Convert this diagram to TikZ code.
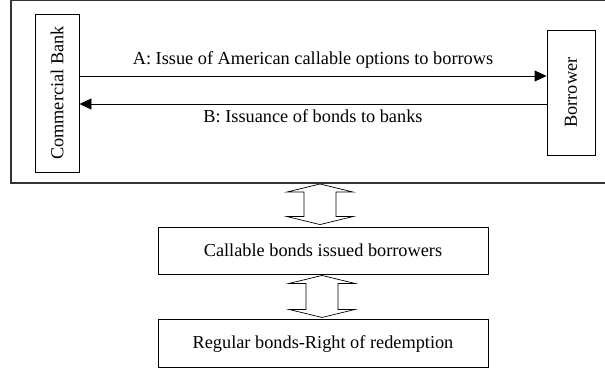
\documentclass[tikz,border=0pt]{standalone}
\usepackage{graphicx}
\usepackage{fontspec}
\setmainfont{Liberation Serif}
\usetikzlibrary{positioning,arrows.meta,calc}

\tikzset{
  box/.style={draw, line width=0.9pt, inner sep=0pt},
  flow/.style={line width=0.9pt, -{Triangle[length=12pt,width=11pt]}},
  twoway/.style={draw, line width=0.7pt, line join=miter}
}

% hollow up-down arrow between two points (top apex, bottom apex)
\newcommand{\dblarrow}[2]{%
  \draw[twoway] let \p1=(#1), \p2=(#2) in
    (\x1,\y1) -- (\x1+33pt,\y1-8pt) -- (\x1+16pt,\y1-8pt) -- (\x1+16pt,\y2+8pt)
    -- (\x1+33pt,\y2+8pt) -- (\x1,\y2) -- (\x1-33pt,\y2+8pt) -- (\x1-16pt,\y2+8pt)
    -- (\x1-16pt,\y1-8pt) -- (\x1-33pt,\y1-8pt) -- cycle;
}

\begin{document}
\begin{tikzpicture}[
  x=1pt, y=-1pt,
  font=\fontsize{18.3pt}{22pt}\selectfont
]
\useasboundingbox (0,0) rectangle (605,373);

% Outer frame (open on the right)
\draw[line width=1.3pt, black!80] (605,0.8) -- (11,0.8) -- (11,183) -- (605,183);
\coordinate (framebot) at (320,183);

% Parties
\node[box, minimum width=44pt, minimum height=158pt] (bank) at (57,93) {\rotatebox{90}{Commercial Bank}};
\node[box, minimum width=48pt, minimum height=125pt] (borrower) at (571,92.5) {\rotatebox{90}{Borrower}};

% Flows between them
\coordinate (ya) at (0,76);
\coordinate (yb) at (0,104);
\draw[flow] (bank.east |- ya) -- node[above=4pt] {A: Issue of American callable options to borrows} (borrower.west |- ya);
\draw[flow] (borrower.west |- yb) -- node[below=2pt] {B: Issuance of bonds to banks} (bank.east |- yb);

% Bond boxes
\node[box, minimum width=330pt, minimum height=47pt] (callable) at (323,250.5) {Callable bonds issued borrowers};
\node[box, minimum width=330pt, minimum height=48pt, below=45pt of callable] (regular) {Regular bonds-Right of redemption};

% Two-way arrows
\dblarrow{$(framebot)+(0,1)$}{$(callable.north)+(0,-2)$}
\dblarrow{$(callable.south)+(-1,1)$}{$(regular.north)+(0,-2)$}

\end{tikzpicture}
\end{document}
